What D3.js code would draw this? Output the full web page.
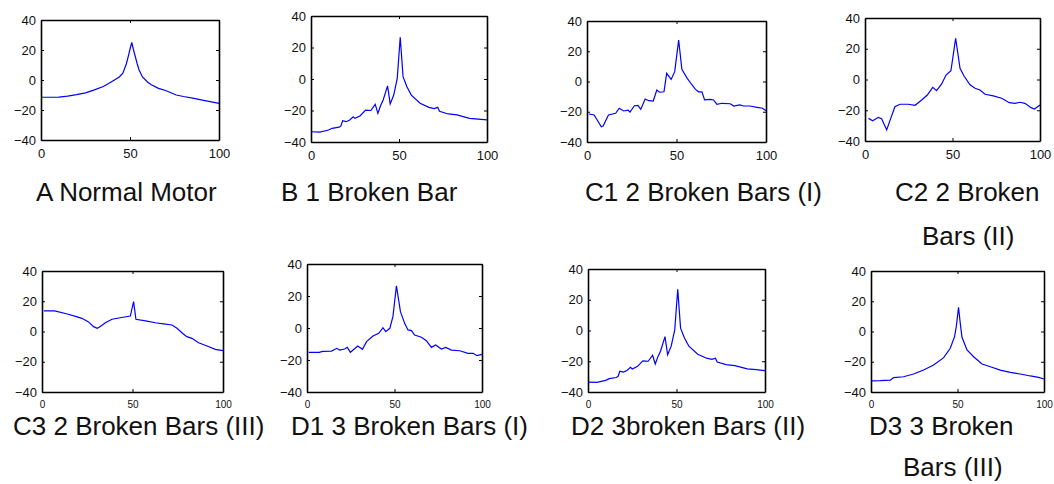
<!DOCTYPE html>
<html>
<head>
<meta charset="utf-8">
<script src="https://cdn.jsdelivr.net/npm/d3@7/dist/d3.min.js"></script>
<style>
	body { margin: 0; background: #fff; }
	svg { display: block; font-family: "Liberation Sans", Arial, sans-serif; }
	.axis path, .axis line { stroke: #000; }
	.axis text { fill: #111; }
</style>
</head>
<body>
<div id="main"></div>
<script>

// tick values shared by all panels
var xTicks = [0, 50, 100],
	yTicks = [-40, -20, 0, 20, 40];

// A Normal Motor
var aX = [0,5,10,15,20,25,30,35,38,41,44,46,48,49,50,51,52,53,54,55,57,60,62,66,70,76,80,86,90,95,100];
var aY = [-11.5,-11.5,-11.4,-10.8,-9.8,-8.6,-6.6,-4.3,-2.4,-0.2,2,4.5,11,15.6,20.5,25,20,15.5,11,7,2,-1.5,-3.2,-5.6,-7,-10,-11,-12.3,-13.3,-14.4,-15.6];

// B 1 Broken Bar
var bX = [0,5,10,12,16,17,18,20,22,24,25,28,31,34,36.5,38,39.5,41,43.5,45,47,49,50.7,52.3,54.5,57,62,67,70,72,73,78,83,90,95,100];
var bY = [-33.5,-33.7,-32.4,-31.3,-30.6,-29.8,-26.5,-27.1,-26,-24,-25,-23.3,-19.8,-20,-16.1,-21.8,-17,-13.3,-4.4,-15.8,-10.2,0.4,26.5,1.5,-4.9,-10.2,-15.4,-18,-18.8,-18,-20.5,-22.2,-22.8,-25,-25.5,-26];

// C1 2 Broken Bars (I)
var c1X = [1,4,8,9,12,16,18,20.5,23,24,26.5,28.5,30,32.5,34.5,37,39,40.5,43,44.5,47,49,51.2,53,56,58.7,60.6,62.4,64.2,65.7,69,70.7,72.6,75.4,80,82,85.3,87.5,91,95,98,100];
var c1Y = [-21.5,-22.1,-29.9,-29.5,-22.1,-21,-17.7,-19.5,-19,-20.2,-16,-15.8,-18.4,-11.6,-12.7,-12.9,-5.6,-7.1,-6.8,5.4,1.4,6.5,27.4,8,2.1,-2.3,-5.2,-6.8,-6.8,-12.2,-11.8,-12.2,-15.1,-14.4,-14.7,-16.2,-15.5,-16.2,-16.2,-17.1,-17.7,-19.3];

// C2 2 Broken Bars (II)
var c2X = [2,4.4,7.6,9.5,12.4,14.7,17.1,20,24.7,28.6,32.4,35.6,38.7,40.9,43.8,46.3,49.1,51.8,54.3,56.6,60,62.9,65.7,68.6,73.3,78.1,82.5,85.7,88.6,91.4,94.9,96.8,100];
var c2Y = [-25.3,-26.8,-24.6,-25.5,-32.8,-25.3,-17.7,-16.1,-16.1,-16.8,-13.3,-10.1,-5.1,-7.3,-2.9,2.9,5.7,26.8,7.3,2.3,-3.4,-5.7,-6.8,-9.6,-10.7,-12.2,-15.1,-15.5,-14.8,-15.5,-18.3,-19.2,-16.6];

// C3 2 Broken Bars (III)
var c3X = [1,7,14,19,22,25.5,28.5,30.5,32,35,38.7,43.3,48.8,50.6,51.9,58,62.6,67.2,71.8,74.6,77.3,80,82.8,86.5,91.2,95.7,100];
var c3Y = [13.6,13.6,11.6,9.8,8.7,6.5,3.2,2.1,3.2,5.8,8.1,9.1,10.2,19.7,8.1,6.9,5.8,5,4.3,2.1,-0.8,-3.4,-4.5,-7.4,-9.6,-11.8,-12.7];

// D1 3 Broken Bars (I)
var d1X = [1,7,9,14,17,18.7,21.5,23,24.8,29,31.7,34,37.7,41,43.4,45,47.3,49.1,51.1,53.4,55.8,57.7,59.7,61.5,65.4,68.2,71.1,73.5,76.8,79.3,82.5,87.3,92,95,97.1,100];
var d1Y = [-15.2,-15.2,-14.6,-14.4,-12.7,-13.8,-13.1,-12.1,-15.2,-11.3,-13.3,-8.5,-5,-3.3,0.2,-2.3,-0.2,7.1,26.3,10.2,2.9,-1.2,-1.6,-4.4,-5.8,-7.9,-12.1,-10.6,-13.1,-12.1,-13.8,-14.2,-15.8,-15.8,-17.3,-16.5];

// D2 3broken Bars (II)
var d2X = [0,5,10,12,16,17,18,20,22,24,25,28,31,34,36.5,38,39.5,41,43.5,45,47,49,50.7,52.3,54.5,57,62,67,70,72,73,78,83,90,95,100];
var d2Y = [-33.6,-33.7,-32.4,-31.3,-30.6,-29.8,-26.5,-27.1,-26,-24,-25,-23.3,-19.8,-20,-16.1,-21.8,-17,-13.3,-4,-15.8,-10.2,0.4,26.8,1.5,-4.9,-10.2,-15.4,-18,-18.8,-18,-20.5,-22.2,-22.8,-25,-25.5,-26.1];

// D3 3 Broken Bars (III)
var d3X = [0,5.4,11.2,13.1,18.8,24.6,30.4,36.2,42,45.8,48.3,49.3,50.6,51.6,52.6,55.5,59.3,64.2,69,74.7,80.5,86.3,92.1,96.9,100];
var d3Y = [-32.7,-32.5,-32.1,-30.5,-29.9,-28.1,-25.5,-22.1,-17.3,-11.1,-3.4,3.2,16,5.4,-3.8,-12.2,-16.7,-21.5,-23.3,-25.5,-27,-28.1,-29.4,-30.3,-31.4];

// captions
var captions = [
	["A Normal Motor"],
	["B 1 Broken Bar"],
	["C1 2 Broken Bars (I)"],
	["C2 2 Broken", "Bars (II)"],
	["C3 2 Broken Bars (III)"],
	["D1 3 Broken Bars (I)"],
	["D2 3broken Bars (II)"],
	["D3 3 Broken", "Bars (III)"]
];

var series = [[aX, aY], [bX, bY], [c1X, c1Y], [c2X, c2Y], [c3X, c3Y], [d1X, d1Y], [d2X, d2Y], [d3X, d3Y]];

// panel boxes and caption placement (pixels)
var layout = [
	{ l: 41,  r: 219,  t: 20,  b: 140, xf: 13, cx: [36], cy: [201] },
	{ l: 311, r: 487,  t: 16,  b: 142, xf: 13, cx: [281], cy: [201] },
	{ l: 587, r: 766,  t: 21,  b: 142, xf: 13, cx: [585], cy: [201] },
	{ l: 865, r: 1040, t: 18,  b: 141, xf: 13, cx: [895, 922], cy: [201, 245] },
	{ l: 42,  r: 223,  t: 271, b: 392, xf: 10, cx: [13], cy: [435] },
	{ l: 307, r: 482,  t: 264, b: 392, xf: 10, cx: [291], cy: [435] },
	{ l: 588, r: 765,  t: 269, b: 392, xf: 10, cx: [571], cy: [435] },
	{ l: 871, r: 1044, t: 271, b: 392, xf: 10, cx: [869, 903], cy: [435, 476] }
];

var W = 1054, H = 484,
	fontFam = "Liberation Sans, Arial, sans-serif";

var svg = d3.select("#main")
	.append("svg")
	.attr("width", W)
	.attr("height", H);

svg.append("rect")
	.attr("width", W)
	.attr("height", H)
	.attr("fill", "#fff");

layout.forEach(function(p, i) {
	var w = p.r - p.l,
		h = p.b - p.t;

	var x = d3.scaleLinear().domain([0, 100]).range([0, w]);
	var y = d3.scaleLinear().domain([-40, 40]).range([h, 0]);

	var g = svg.append("g")
		.attr("transform", "translate(" + p.l + "," + p.t + ")");

	var line = d3.line()
		.x(function(d) { return x(d[0]); })
		.y(function(d) { return y(d[1]); });

	var pts = d3.zip(series[i][0], series[i][1]);

	g.append("path")
		.datum(pts)
		.attr("d", line)
		.attr("fill", "none")
		.attr("stroke", "#0000ff")
		.attr("stroke-width", 1.2);

	// box with inward ticks, matlab style
	g.append("g")
		.attr("class", "axis")
		.attr("transform", "translate(0," + h + ")")
		.call(d3.axisBottom(x).tickValues(xTicks).tickSizeInner(-3).tickSizeOuter(0).tickPadding(9))
		.attr("font-size", p.xf);

	g.append("g")
		.attr("class", "axis")
		.call(d3.axisTop(x).tickValues(xTicks).tickSizeInner(-3).tickSizeOuter(0).tickFormat(""));

	g.append("g")
		.attr("class", "axis")
		.call(d3.axisLeft(y).tickValues(yTicks).tickSizeInner(-3).tickSizeOuter(0).tickPadding(5))
		.attr("font-size", 13);

	g.append("g")
		.attr("class", "axis")
		.attr("transform", "translate(" + w + ",0)")
		.call(d3.axisRight(y).tickValues(yTicks).tickSizeInner(-3).tickSizeOuter(0).tickFormat(""));

	g.selectAll(".axis").attr("font-family", fontFam);
	g.selectAll(".axis path").attr("stroke-width", 1.6);

	// caption
	captions[i].forEach(function(txt, j) {
		svg.append("text")
			.attr("x", p.cx[j])
			.attr("y", p.cy[j])
			.attr("font-size", 26)
			.attr("font-family", fontFam)
			.attr("fill", "#111")
			.text(txt);
	});
});

</script>
</body>
</html>
